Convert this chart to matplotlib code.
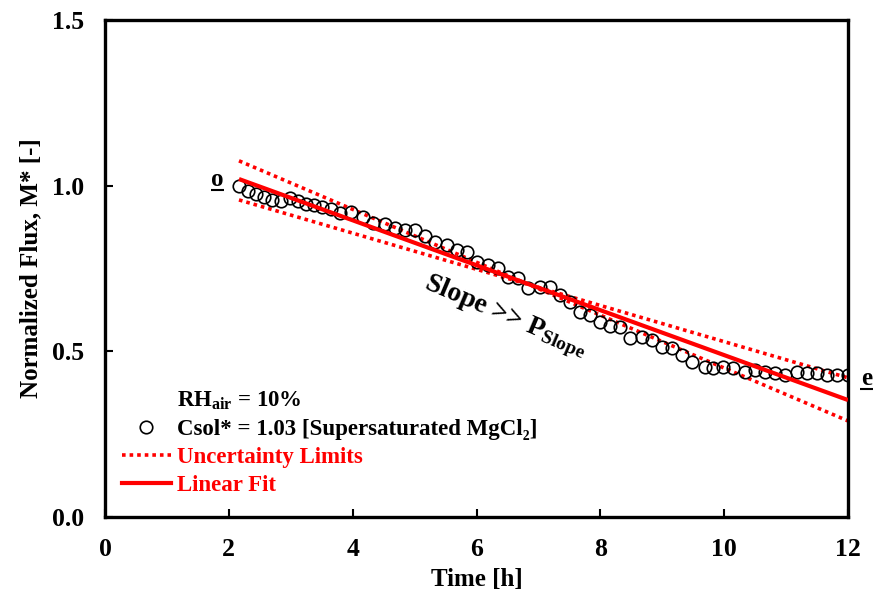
import matplotlib
matplotlib.use("Agg")
import matplotlib.pyplot as plt
from matplotlib.lines import Line2D

plt.rcParams['font.family'] = ['Liberation Serif', 'DejaVu Sans']
plt.rcParams['font.weight'] = 'bold'
plt.rcParams['mathtext.fontset'] = 'custom'
plt.rcParams['mathtext.rm'] = 'Liberation Serif:bold'
plt.rcParams['mathtext.bf'] = 'Liberation Serif:bold'
plt.rcParams['mathtext.it'] = 'Liberation Serif:bold'

# ---- data ----
time_h = [2.164, 2.309, 2.439, 2.568, 2.697, 2.842, 2.988, 3.117, 3.246, 3.375,
          3.505, 3.650, 3.795, 3.973, 4.167, 4.328, 4.522, 4.683, 4.845, 5.006,
          5.168, 5.329, 5.523, 5.685, 5.846, 6.008, 6.185, 6.347, 6.508, 6.670,
          6.831, 7.025, 7.187, 7.348, 7.510, 7.671, 7.833, 7.994, 8.156, 8.317,
          8.479, 8.672, 8.834, 8.995, 9.157, 9.318, 9.480, 9.690, 9.819, 9.981,
          10.142, 10.336, 10.497, 10.659, 10.820, 10.982, 11.176, 11.337, 11.499, 11.660,
          11.822, 12.000]
flux = [1.000, 0.984, 0.975, 0.966, 0.957, 0.954, 0.963, 0.954, 0.945, 0.942,
        0.936, 0.930, 0.918, 0.921, 0.906, 0.887, 0.884, 0.872, 0.866, 0.866,
        0.848, 0.830, 0.821, 0.806, 0.800, 0.770, 0.761, 0.752, 0.724, 0.721,
        0.691, 0.694, 0.694, 0.670, 0.649, 0.619, 0.610, 0.589, 0.577, 0.573,
        0.540, 0.543, 0.534, 0.513, 0.510, 0.489, 0.468, 0.453, 0.450, 0.453,
        0.450, 0.438, 0.444, 0.438, 0.435, 0.429, 0.438, 0.435, 0.435, 0.429,
        0.429, 0.429]

fit_t = [2.164, 12.0]
fit_v = [1.020, 0.353]
unc_a_v = [1.075, 0.290]
unc_b_v = [0.957, 0.420]

xticks = [0, 2, 4, 6, 8, 10, 12]
yticks = [0.0, 0.5, 1.0, 1.5]
yticklabels = ['0.0', '0.5', '1.0', '1.5']

# ---- figure ----
fig = plt.figure(figsize=(8.74, 6.02), dpi=100)
ax = fig.add_axes([105/874, 1-517/602, 743/874, 497/602])

red = '#ff0000'
ax.plot(time_h, flux, linestyle='none', marker='o', markersize=9,
        markerfacecolor='none', markeredgecolor='black', markeredgewidth=1.2, zorder=3)
ax.plot(fit_t, fit_v, color=red, lw=3.0, zorder=4, solid_capstyle='butt')
ax.plot(fit_t, unc_a_v, color=red, lw=2.6, linestyle=(0, (1, 1.1)), zorder=2)
ax.plot(fit_t, unc_b_v, color=red, lw=2.6, linestyle=(0, (1, 1.1)), zorder=2)

ax.set_xlim(0, 12)
ax.set_ylim(0, 1.5)
ax.set_xticks(xticks)
ax.set_yticks(yticks)
ax.set_yticklabels(yticklabels)
ax.tick_params(direction='in', length=6, width=1.5, labelsize=18.5, pad=15)
for s in ax.spines.values():
    s.set_linewidth(2.4)

ax.set_xlabel('Time [h]', fontsize=18, fontweight='bold', labelpad=5)
ax.set_ylabel('Normalized Flux, M* [-]', fontsize=18, fontweight='bold', labelpad=7)

# endpoint markers (underlined letters)
for tx, ty, lab in [(1.82, 1.0, 'o'), (12.3, 0.398, 'e')]:
    ax.text(tx, ty, lab, fontsize=18, fontweight='bold', ha='center', va='baseline',
            clip_on=False)
    ax.plot([tx - 0.1, tx + 0.1], [ty - 0.012, ty - 0.012], color='black', lw=1.5,
            clip_on=False, solid_capstyle='butt')

ax.text(6.47, 0.605, r'Slope >> P$_{\mathrm{Slope}}$', fontsize=20, fontweight='bold',
        rotation=-23, ha='center', va='center', rotation_mode='anchor')

# legend
handles = [Line2D([], [], linestyle='none'),
           Line2D([], [], linestyle='none', marker='o', markersize=9,
                  markerfacecolor='none', markeredgecolor='black', markeredgewidth=1.2),
           Line2D([], [], color=red, lw=2.6, linestyle=(0, (1, 1.1))),
           Line2D([], [], color=red, lw=3.0)]
labels = [r'RH$_{\mathrm{air}}$ = 10%', 'Csol* = 1.03 [Supersaturated MgCl\u2082]',
          'Uncertainty Limits', 'Linear Fit']
leg = ax.legend(handles, labels, loc='lower left', bbox_to_anchor=(0.01, 0.024),
                frameon=False, handlelength=2.15, handletextpad=0.28,
                labelspacing=0.3, borderaxespad=0.0,
                prop={'family': ['Liberation Serif', 'DejaVu Sans'], 'weight': 'bold', 'size': 16.5})
for txt, c in zip(leg.get_texts(), ['black', 'black', red, red]):
    txt.set_color(c)

fig.savefig('out.png', dpi=100)
